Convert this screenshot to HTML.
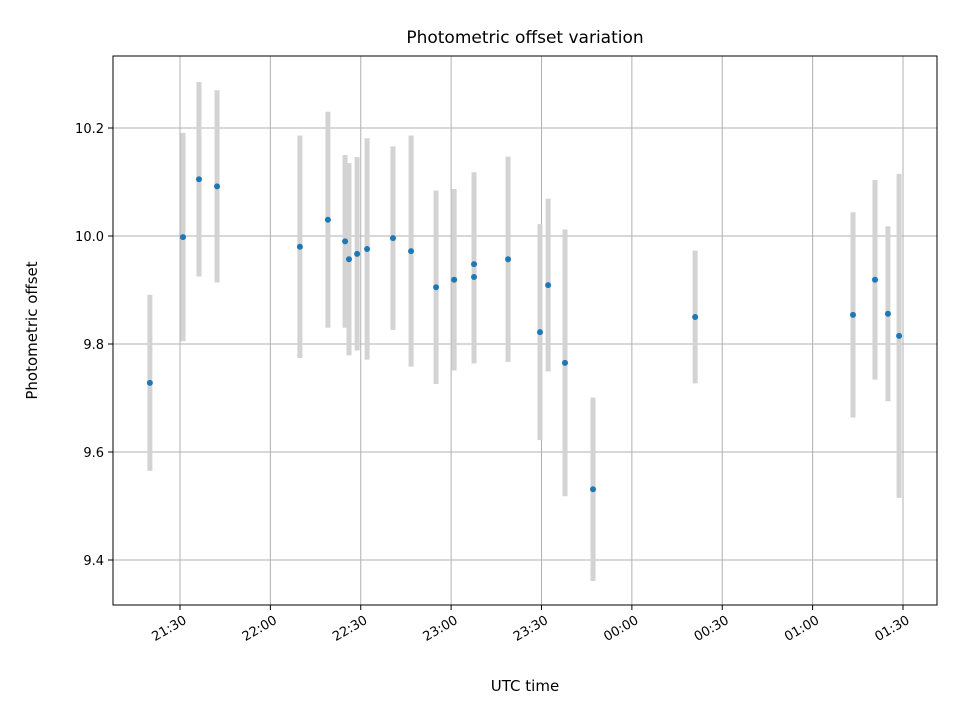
<!DOCTYPE html>
<html><head><meta charset="utf-8"><style>
body{margin:0;background:#fff;}
svg{font-family:"DejaVu Sans","Liberation Sans",sans-serif;}
</style></head><body>
<svg id="chart" width="960" height="720"></svg>
<script>
// minutes after 21:30 UTC
const times = [-10,1,6.3,12.3,39.8,49.1,54.8,56.1,58.8,62.1,70.7,76.7,85,91,97.6,97.6,108.9,119.5,122.2,127.8,137.1,171,223.4,230.7,235,238.7];
const values = [9.728,9.998,10.105,10.092,9.98,10.03,9.99,9.957,9.967,9.976,9.996,9.972,9.905,9.919,9.948,9.924,9.957,9.822,9.909,9.765,9.531,9.85,9.854,9.919,9.856,9.815];
const errors = [0.163,0.193,0.18,0.178,0.206,0.2,0.16,0.178,0.179,0.205,0.17,0.214,0.179,0.168,0.17,0.16,0.19,0.2,0.16,0.247,0.17,0.123,0.19,0.185,0.162,0.3];
const xTickMinutes = [0,30,60,90,120,150,180,210,240];
const xTickLabels = ["21:30","22:00","22:30","23:00","23:30","00:00","00:30","01:00","01:30"];
const yTicks = [9.4,9.6,9.8,10.0,10.2];
const yTickLabels = ["9.4","9.6","9.8","10.0","10.2"];

const L=113,R=937,T=56,B=605;
const xS = m => 180 + m*3.0125;
const yS = v => 236 - (v-10)*540;
const svg=document.getElementById('chart');
const NS="http://www.w3.org/2000/svg";
function mk(tag,attrs,parent){const e=document.createElementNS(NS,tag);for(const k in attrs)e.setAttribute(k,attrs[k]);(parent||svg).appendChild(e);return e;}

xTickMinutes.forEach((m,i)=>{
  const x=xS(m);
  const g=mk('line',{x1:x,x2:x,y1:T,y2:B,stroke:'#b0b0b0','stroke-width':1});
  
  
  const t=mk('line',{x1:x,x2:x,y1:B,y2:B+5,stroke:'#000','stroke-width':1});
  
  
  const ax=x+3, ay=B+10;
  const lb=mk('text',{x:ax,y:ay,'font-size':13,'text-anchor':'end','dominant-baseline':'hanging',transform:`rotate(-30 ${ax} ${ay})`});
  lb.textContent=xTickLabels[i];
  
  
});
yTicks.forEach((v,i)=>{
  const y=yS(v);
  const g=mk('line',{x1:L,x2:R,y1:y,y2:y,stroke:'#b0b0b0','stroke-width':1});
  
  
  const t=mk('line',{x1:L-5,x2:L,y1:y,y2:y,stroke:'#000','stroke-width':1});
  
  
  const lb=mk('text',{x:L-9,y:y+5,'font-size':13,'text-anchor':'end'});
  lb.textContent=yTickLabels[i];
  
  
});
times.forEach((m,i)=>{
  const x=xS(m);
  const e=mk('line',{x1:x,x2:x,y1:yS(values[i]+errors[i]),y2:yS(values[i]-errors[i]),stroke:'#d3d3d3','stroke-width':5});
  
  
});
times.forEach((m,i)=>{
  const p=mk('circle',{cx:xS(m),cy:yS(values[i]),r:3,fill:'#1f77b4'});
  
  
});
const f=mk('rect',{x:L,y:T,width:R-L,height:B-T,fill:'none',stroke:'#000','stroke-width':1});


const ti=mk('text',{x:(L+R)/2,y:43,'font-size':17,'text-anchor':'middle'});
ti.textContent='Photometric offset variation';


const xt=mk('text',{x:(L+R)/2,y:691,'font-size':15,'text-anchor':'middle'});
xt.textContent='UTC time';


const yt=mk('text',{x:37,y:(T+B)/2,'font-size':15,'text-anchor':'middle',transform:`rotate(-90 37 ${(T+B)/2})`});
yt.textContent='Photometric offset';


</script>
</body></html>
